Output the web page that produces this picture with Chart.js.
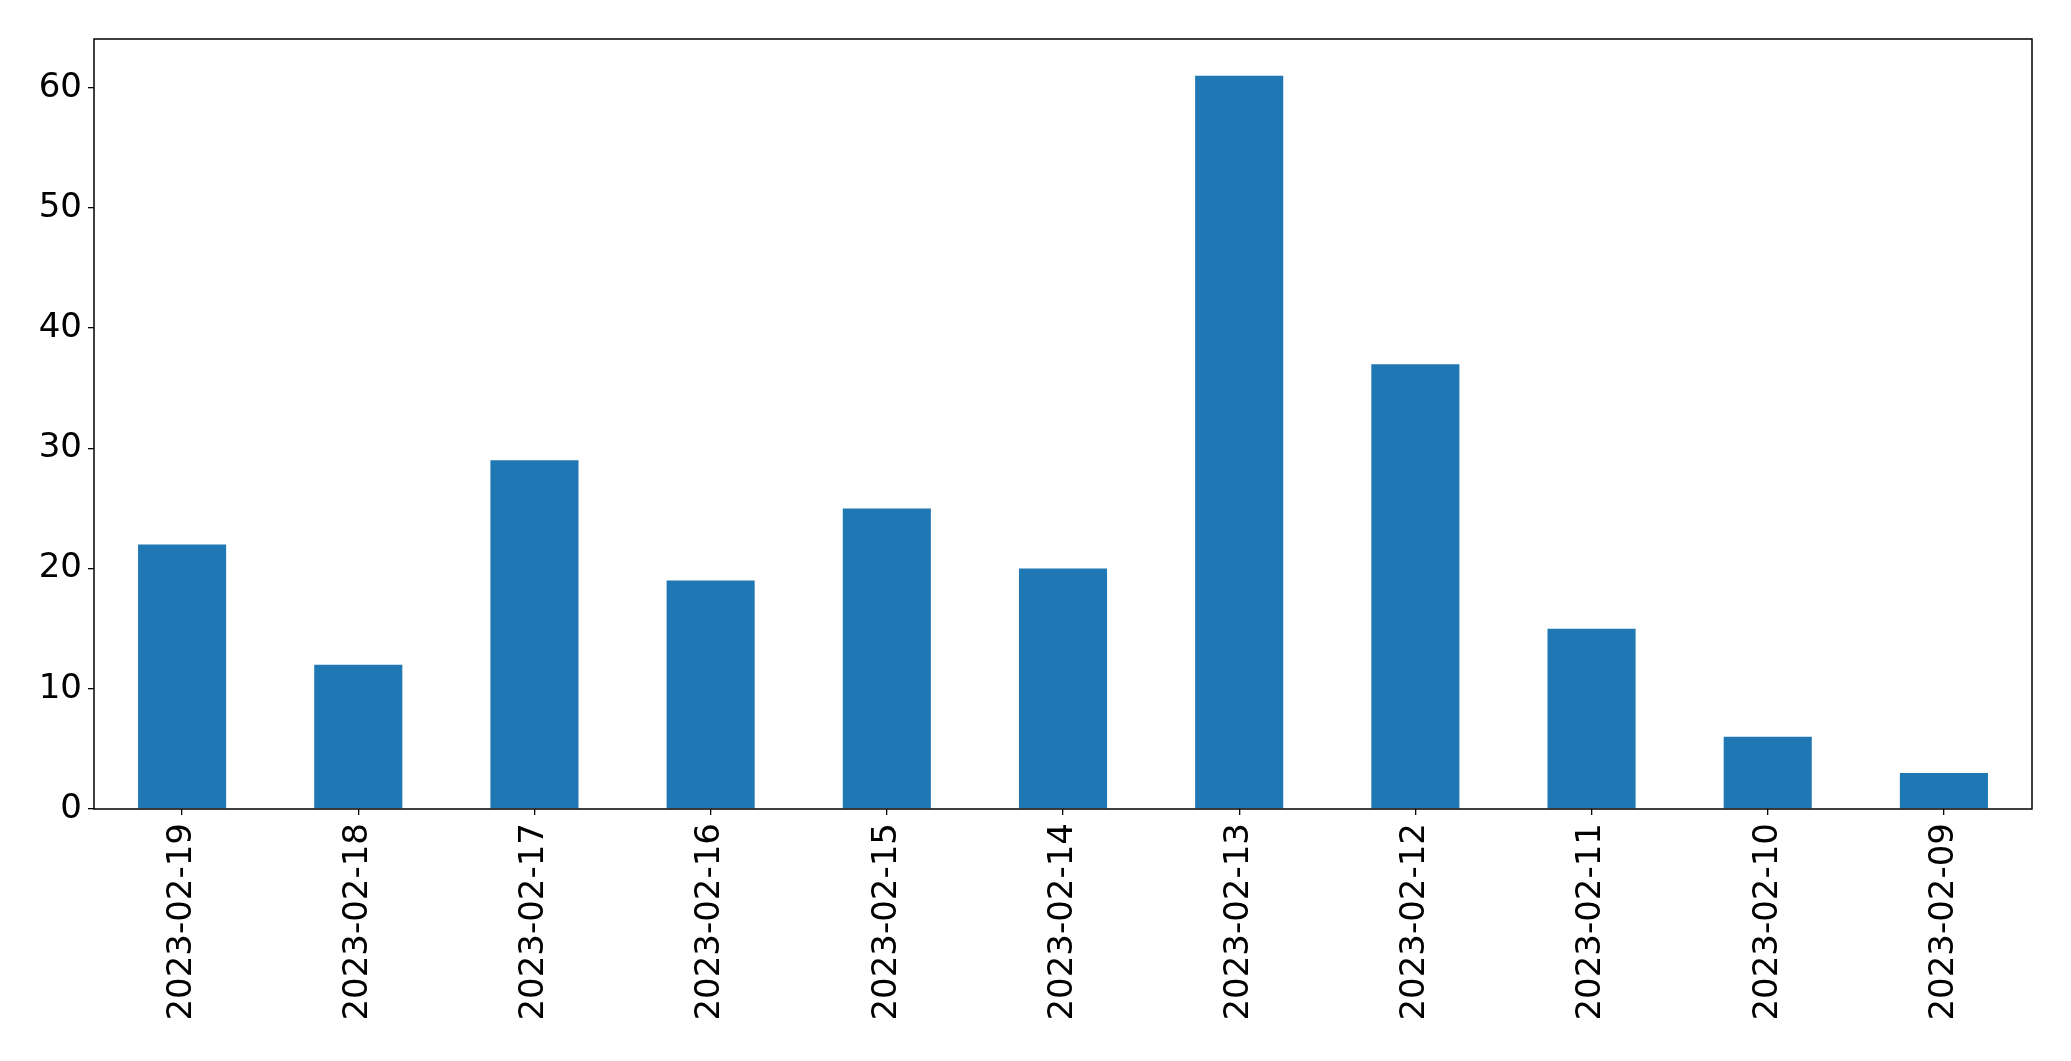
<!DOCTYPE html>
<html lang="en">
<head>
    <meta charset="UTF-8">
    <title>Daily counts</title>
    <script src="https://cdn.jsdelivr.net/npm/chart.js"></script>
    <style>
        html, body {
            margin: 0;
            padding: 0;
            background-color: white;
        }
        .chart-container {
            width: 2071px;
            height: 1061px;
        }
    </style>
</head>
<body>
    <div class="chart-container">
        <canvas id="barChart"></canvas>
    </div>

    <script>
        // Data
        const dates = ['2023-02-19', '2023-02-18', '2023-02-17', '2023-02-16', '2023-02-15', '2023-02-14',
                       '2023-02-13', '2023-02-12', '2023-02-11', '2023-02-10', '2023-02-09'];
        const counts = [22, 12, 29, 19, 25, 20, 61, 37, 15, 6, 3];
        const yTicks = [0, 10, 20, 30, 40, 50, 60];

        // box around the plot area, like matplotlib's spines
        const frame = {
            id: 'frame',
            afterDatasetsDraw(chart) {
                const a = chart.chartArea;
                const ctx = chart.ctx;
                ctx.save();
                ctx.strokeStyle = '#000';
                ctx.lineWidth = 1.5;
                ctx.strokeRect(a.left, a.top, a.right - a.left, a.bottom - a.top);
                ctx.restore();
            }
        };

        Chart.defaults.font.family = "'DejaVu Sans', sans-serif";
        Chart.defaults.color = '#000';

        new Chart(document.getElementById('barChart'), {
            type: 'bar',
            data: {
                labels: dates,
                datasets: [{
                    data: counts,
                    backgroundColor: '#1f77b4',
                    categoryPercentage: 0.5,
                    barPercentage: 1.0
                }]
            },
            options: {
                responsive: true,
                maintainAspectRatio: false,
                animation: false,
                layout: {
                    padding: { top: 39, right: 39, left: 0, bottom: 0 }
                },
                plugins: {
                    legend: { display: false },
                    tooltip: { enabled: false }
                },
                scales: {
                    x: {
                        offset: true,
                        grid: {
                            offset: false,
                            drawOnChartArea: false,
                            drawTicks: true,
                            tickLength: 6,
                            color: '#000',
                            lineWidth: 1.3
                        },
                        border: { display: false },
                        ticks: {
                            minRotation: 90,
                            maxRotation: 90,
                            autoSkip: false,
                            padding: 8,
                            font: { size: 34 }
                        },
                        afterFit(axis) { axis.height = 252; }
                    },
                    y: {
                        min: 0,
                        max: 64.05,
                        afterBuildTicks(axis) {
                            axis.ticks = yTicks.map(v => ({ value: v }));
                        },
                        grid: {
                            drawOnChartArea: false,
                            drawTicks: true,
                            tickLength: 6,
                            color: '#000',
                            lineWidth: 1.3
                        },
                        border: { display: false },
                        ticks: {
                            padding: 6,
                            font: { size: 34 }
                        },
                        afterFit(axis) { axis.width = 94; }
                    }
                }
            },
            plugins: [frame]
        });
    </script>
</body>
</html>
